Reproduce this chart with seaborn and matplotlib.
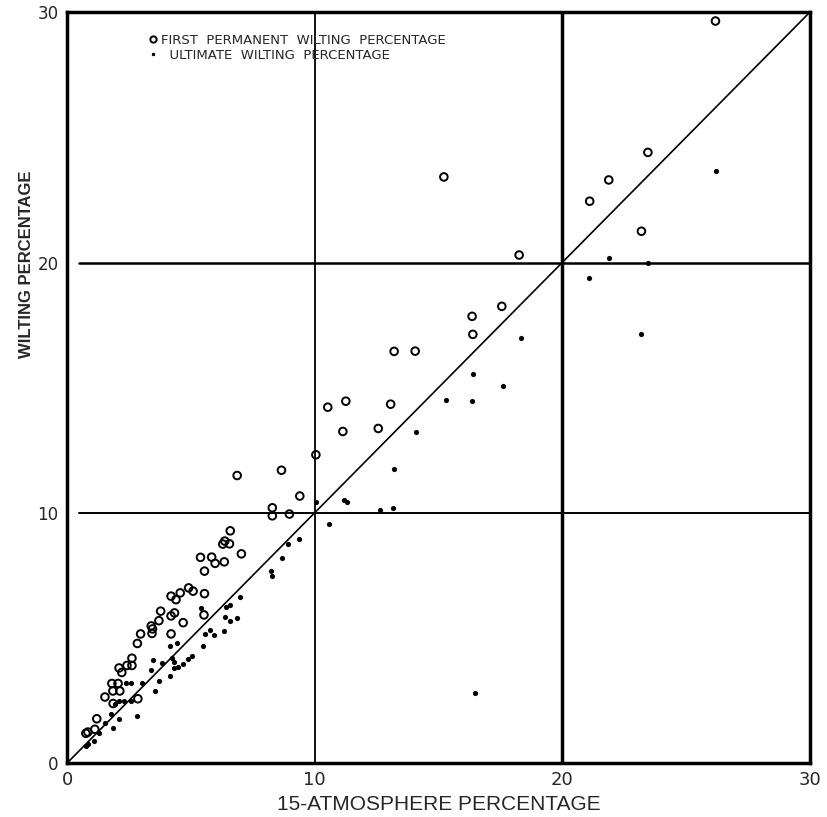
import seaborn as sns
import matplotlib.pyplot as plt
import pandas as pd
from matplotlib.lines import Line2D

# first permanent wilting percentage (open circles)
first_x = [26.19, 23.46, 21.88, 21.11, 23.2, 15.22, 18.26, 17.56, 16.36, 16.39,
           13.21, 14.06, 10.53, 11.26, 13.07, 11.14, 12.57, 10.05, 6.87, 8.66,
           9.4, 8.29, 8.29, 8.98, 6.59, 6.37, 6.29, 6.56, 7.04, 5.39,
           5.84, 5.98, 6.35, 5.55, 4.91, 5.09, 4.57, 5.55, 5.53, 4.2,
           4.4, 3.78, 4.2, 4.34, 4.69, 4.2, 3.71, 3.4, 3.45, 3.43,
           2.97, 2.84, 2.62, 2.42, 2.62, 2.1, 2.21, 1.81, 2.06, 1.85,
           2.13, 1.53, 1.86, 2.86, 1.2, 0.76, 0.84, 1.12]
first_y = [29.65, 24.4, 23.3, 22.45, 21.25, 23.42, 20.3, 18.25, 17.85, 17.13,
           16.45, 16.46, 14.22, 14.46, 14.34, 13.25, 13.37, 12.32, 11.49, 11.7,
           10.67, 10.2, 9.88, 9.95, 9.28, 8.87, 8.75, 8.76, 8.36, 8.22,
           8.23, 7.98, 8.04, 7.67, 7.0, 6.87, 6.8, 6.77, 5.92, 6.67,
           6.53, 6.07, 5.88, 6.0, 5.61, 5.16, 5.69, 5.48, 5.36, 5.18,
           5.16, 4.78, 4.19, 3.9, 3.9, 3.8, 3.62, 3.18, 3.18, 2.88,
           2.88, 2.64, 2.38, 2.57, 1.77, 1.19, 1.24, 1.35]

# ultimate wilting percentage (dots)
ult_x = [26.2, 21.88, 23.48, 21.1, 23.18, 18.33, 16.41, 17.62, 15.3, 16.37,
         14.1, 13.2, 11.18, 11.3, 10.07, 10.58, 9.38, 8.93, 8.69, 8.22,
         8.27, 7.0, 6.4, 6.59, 5.39, 6.37, 6.6, 6.88, 5.57, 5.76,
         5.92, 6.33, 5.5, 4.14, 4.43, 3.47, 3.83, 4.24, 4.31, 4.31,
         4.5, 4.7, 4.89, 5.03, 3.4, 3.01, 3.73, 3.57, 4.14, 2.39,
         2.58, 2.09, 2.3, 2.58, 1.93, 2.84, 1.79, 2.11, 1.53, 1.86,
         1.27, 1.07, 0.84, 0.78, 16.48, 12.62, 13.15]
ult_y = [23.65, 20.2, 20.0, 19.39, 17.15, 16.97, 15.55, 15.06, 14.51, 14.46,
         13.23, 11.75, 10.53, 10.44, 10.43, 9.56, 8.97, 8.75, 8.2, 7.69,
         7.47, 6.65, 6.23, 6.31, 6.18, 5.83, 5.67, 5.78, 5.15, 5.31,
         5.1, 5.29, 4.67, 4.67, 4.8, 4.12, 3.98, 4.21, 4.02, 3.81,
         3.85, 3.97, 4.16, 4.29, 3.72, 3.18, 3.28, 2.89, 3.48, 3.18,
         3.18, 2.5, 2.5, 2.5, 2.38, 1.88, 1.98, 1.78, 1.61, 1.42,
         1.21, 0.88, 0.76, 0.69, 2.81, 10.1, 10.2]

ticks = [0, 10, 20, 30]
tick_labels = ['0', '10', '20', '30']

first = pd.DataFrame({'x': first_x, 'y': first_y})
ult = pd.DataFrame({'x': ult_x, 'y': ult_y})

sns.set_style('white')
fig = plt.figure(figsize=(8.28, 8.17), dpi=100)
ax = fig.add_axes([0.081, 0.066, 0.897, 0.919])

# reference lines
ax.plot([0, 30], [0, 30], color='black', lw=1.2, zorder=1)
ax.plot([0.5, 30], [10, 10], color='black', lw=1.4, zorder=1)
ax.plot([0.5, 30], [20, 20], color='black', lw=1.8, zorder=1)
ax.axvline(10, color='black', lw=1.3, zorder=1)
ax.axvline(20, color='black', lw=2.5, zorder=1)

sns.scatterplot(data=first, x='x', y='y', ax=ax, s=30, facecolors='none',
                edgecolor='black', linewidth=1.4, zorder=3)
sns.scatterplot(data=ult, x='x', y='y', ax=ax, s=14, color='black',
                edgecolor='black', linewidth=0, zorder=3)

ax.set_xlim(0, 30)
ax.set_ylim(0, 30)
ax.set_xticks(ticks)
ax.set_xticklabels(tick_labels, fontsize=13)
ax.set_yticks(ticks)
ax.set_yticklabels(tick_labels, fontsize=12)
ax.tick_params(length=0, pad=6)
for sp in ax.spines.values():
    sp.set_visible(True)
    sp.set_color('black')
    sp.set_linewidth(2.5)

ax.set_xlabel('15-ATMOSPHERE PERCENTAGE', fontsize=15, family='Liberation Sans', labelpad=4)
ax.set_ylabel('WILTING PERCENTAGE', fontsize=12, fontweight='bold', family='Liberation Sans')
ax.yaxis.set_label_coords(-0.045, 0.665)

handles = [
    Line2D([], [], marker='o', ls='none', mfc='none', mec='black', mew=1.4, ms=4.5),
    Line2D([], [], marker='.', ls='none', color='black', ms=3),
]
ax.legend(handles, ['FIRST  PERMANENT  WILTING  PERCENTAGE', '  ULTIMATE  WILTING  PERCENTAGE'],
          loc='upper left', bbox_to_anchor=(0.095, 0.987), frameon=False,
          fontsize=9.5, handlelength=0.6, handletextpad=0.3, labelspacing=0.15)

fig.savefig('out.png', dpi=100)
